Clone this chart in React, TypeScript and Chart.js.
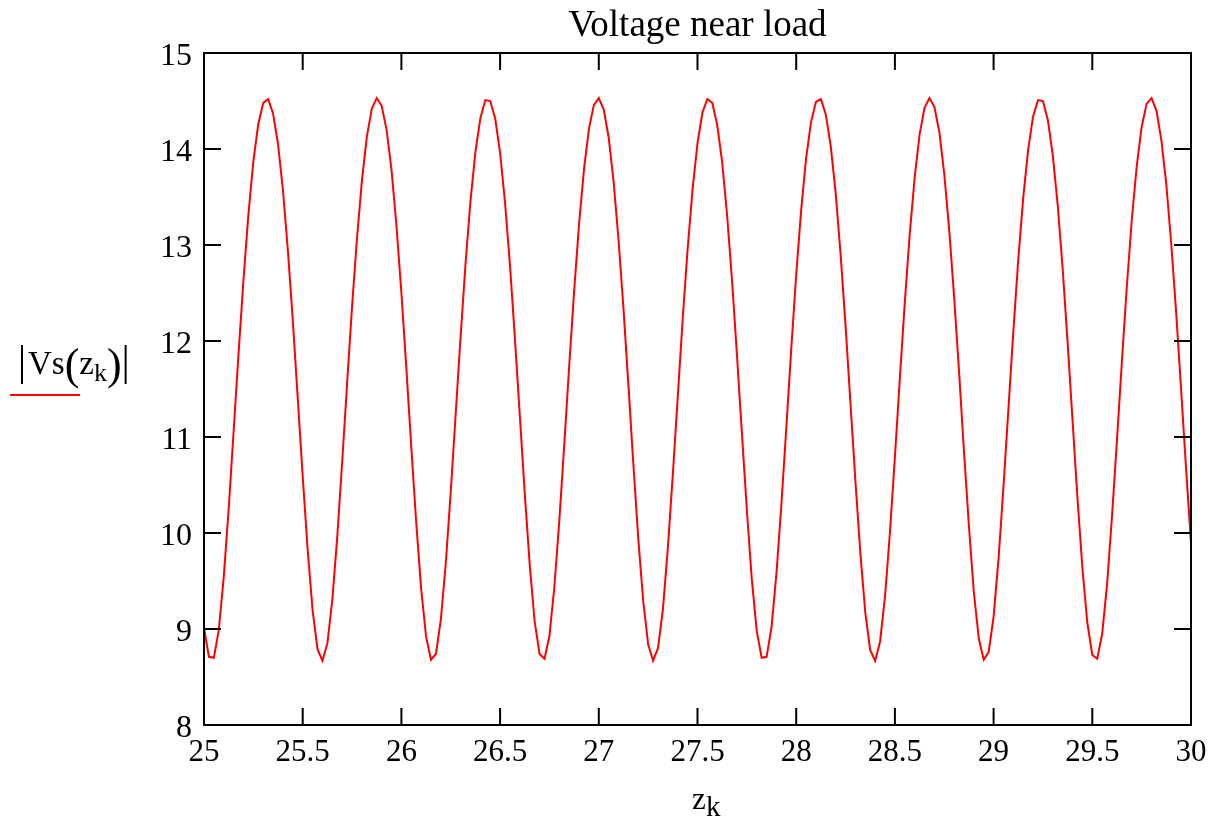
import React, { useEffect, useRef } from "react";
import { Chart, registerables } from "chart.js";

Chart.register(...registerables);

const TITLE = "Voltage near load";
const Z_START = 25;
const Z_STEP = 0.025;
const X_TICKS = [25, 25.5, 26, 26.5, 27, 27.5, 28, 28.5, 29, 29.5, 30];
const Y_TICKS = [8, 9, 10, 11, 12, 13, 14, 15];

// |Vs(z_k)| sampled every 0.025 from z = 25 to z = 30
const VS_MAG = [
  9.01, 8.71, 8.70, 8.99, 9.54, 10.25, 11.06, 11.87, 12.64, 13.32,
  13.87, 14.26, 14.48, 14.52, 14.37, 14.05, 13.57, 12.94, 12.21, 11.40,
  10.59, 9.83, 9.20, 8.79, 8.67, 8.85, 9.30, 9.96, 10.74, 11.56,
  12.36, 13.07, 13.67, 14.13, 14.42, 14.53, 14.45, 14.20, 13.78, 13.20,
  12.50, 11.72, 10.90, 10.11, 9.42, 8.92, 8.68, 8.74, 9.10, 9.69,
  10.43, 11.24, 12.05, 12.81, 13.46, 13.97, 14.32, 14.51, 14.50, 14.32,
  13.96, 13.44, 12.79, 12.03, 11.22, 10.41, 9.67, 9.08, 8.74, 8.69,
  8.93, 9.44, 10.13, 10.92, 11.74, 12.52, 13.22, 13.79, 14.21, 14.46,
  14.53, 14.41, 14.12, 13.66, 13.05, 12.34, 11.54, 10.72, 9.94, 9.29,
  8.84, 8.67, 8.80, 9.21, 9.85, 10.61, 11.42, 12.23, 12.96, 13.58,
  14.06, 14.38, 14.52, 14.48, 14.25, 13.86, 13.31, 12.63, 11.85, 11.04,
  10.24, 9.52, 8.98, 8.70, 8.71, 9.02, 9.58, 10.30, 11.10, 11.92,
  12.69, 13.36, 13.90, 14.28, 14.49, 14.52, 14.36, 14.03, 13.54, 12.90,
  12.16, 11.35, 10.54, 9.79, 9.17, 8.78, 8.67, 8.87, 9.34, 10.01,
  10.79, 11.61, 12.40, 13.11, 13.70, 14.15, 14.43, 14.53, 14.44, 14.18,
  13.74, 13.16, 12.46, 11.68, 10.85, 10.07, 9.38, 8.90, 8.68, 8.76,
  9.13, 9.73, 10.48, 11.29, 12.10, 12.85, 13.49, 13.99, 14.34, 14.51,
  14.50, 14.30, 13.93, 13.41, 12.75, 11.98, 11.17, 10.36, 9.63, 9.06,
  8.73, 8.69, 8.95, 9.47, 10.18, 10.97, 11.79, 12.57, 13.26, 13.82,
  14.23, 14.47, 14.53, 14.40, 14.09, 13.63, 13.01, 12.29, 11.49, 10.67,
  9.90,
];

const FONT = '"Liberation Serif", "Times New Roman", serif';

const decorPlugin = {
  id: "decor",
  afterDatasetsDraw(chart: any) {
    const { ctx, chartArea: a, scales } = chart;
    ctx.save();
    ctx.strokeStyle = "#000";
    ctx.lineWidth = 2;
    ctx.strokeRect(a.left, a.top, a.right - a.left, a.bottom - a.top);
    ctx.beginPath();
    const TL = 17;
    for (const v of X_TICKS) {
      const x = scales.x.getPixelForValue(v);
      ctx.moveTo(x, a.bottom);
      ctx.lineTo(x, a.bottom - TL);
      ctx.moveTo(x, a.top);
      ctx.lineTo(x, a.top + TL);
    }
    for (const v of Y_TICKS) {
      const y = scales.y.getPixelForValue(v);
      ctx.moveTo(a.left, y);
      ctx.lineTo(a.left + TL, y);
      ctx.moveTo(a.right, y);
      ctx.lineTo(a.right - TL, y);
    }
    ctx.stroke();

    ctx.fillStyle = "#000";
    ctx.textBaseline = "alphabetic";
    // title
    ctx.font = `37px ${FONT}`;
    ctx.textAlign = "center";
    ctx.fillText(TITLE, (a.left + a.right) / 2, 36);

    // x axis title z_k
    ctx.textAlign = "left";
    ctx.font = `31px ${FONT}`;
    ctx.fillText("z", 692, 809);
    ctx.font = `29px ${FONT}`;
    ctx.fillText("k", 706, 816);

    // y axis title |Vs(z_k)|
    const base = 374;
    let x = 22;
    ctx.lineWidth = 2;
    ctx.beginPath();
    ctx.moveTo(x, 345);
    ctx.lineTo(x, 384);
    ctx.stroke();
    x = 28;
    ctx.font = `33px ${FONT}`;
    ctx.fillText("Vs", x, base);
    x += ctx.measureText("Vs").width;
    ctx.font = `44px ${FONT}`;
    ctx.fillText("(", x, base + 5);
    x += ctx.measureText("(").width;
    ctx.font = `33px ${FONT}`;
    ctx.fillText("z", x, base);
    x += ctx.measureText("z").width;
    ctx.font = `26px ${FONT}`;
    ctx.fillText("k", x, base + 7);
    x += ctx.measureText("k").width;
    ctx.font = `44px ${FONT}`;
    ctx.fillText(")", x, base + 5);
    x += ctx.measureText(")").width + 4;
    ctx.beginPath();
    ctx.moveTo(x, 345);
    ctx.lineTo(x, 384);
    ctx.stroke();

    // legend swatch
    ctx.strokeStyle = "#ff0000";
    ctx.lineWidth = 2;
    ctx.beginPath();
    ctx.moveTo(10, 395);
    ctx.lineTo(80, 395);
    ctx.stroke();
    ctx.restore();
  },
};

export default function App() {
  const ref = useRef<HTMLCanvasElement>(null);
  useEffect(() => {
    if (!ref.current) return;
    const points = VS_MAG.map((v, k) => ({ x: Z_START + k * Z_STEP, y: v }));
    const chart = new Chart(ref.current, {
      type: "line",
      data: {
        datasets: [
          {
            data: points,
            borderColor: "#ff0000",
            borderWidth: 2,
            pointRadius: 0,
            tension: 0,
            fill: false,
          },
        ],
      },
      options: {
        responsive: false,
        animation: false,
        events: [],
        layout: { padding: { top: 53, right: 34, left: 0, bottom: 0 } },
        plugins: { legend: { display: false }, tooltip: { enabled: false }, title: { display: false } },
        scales: {
          x: {
            type: "linear",
            min: 25,
            max: 30,
            grid: { display: false },
            border: { display: false },
            afterFit: (s: any) => {
              s.height = 98;
            },
            afterBuildTicks: (s: any) => {
              s.ticks = X_TICKS.map((v) => ({ value: v }));
            },
            ticks: {
              color: "#000",
              padding: 1,
              maxRotation: 0,
              autoSkip: false,
              font: { family: FONT, size: 31 },
              callback: (v: any) => String(v),
            },
          },
          y: {
            type: "linear",
            min: 8,
            max: 15,
            grid: { display: false },
            border: { display: false },
            afterFit: (s: any) => {
              s.width = 204;
            },
            afterBuildTicks: (s: any) => {
              s.ticks = Y_TICKS.map((v) => ({ value: v }));
            },
            ticks: {
              color: "#000",
              padding: 4,
              labelOffset: 4,
              autoSkip: false,
              font: { family: FONT, size: 32 },
              callback: (v: any) => String(v),
            },
          },
        },
      },
      plugins: [decorPlugin],
    });
    return () => chart.destroy();
  }, []);
  return (
    <div style={{ position: "absolute", left: 0, top: 0, width: 1225, height: 823, background: "#fff" }}>
      <canvas ref={ref} width={1225} height={823} style={{ display: "block" }} />
    </div>
  );
}
